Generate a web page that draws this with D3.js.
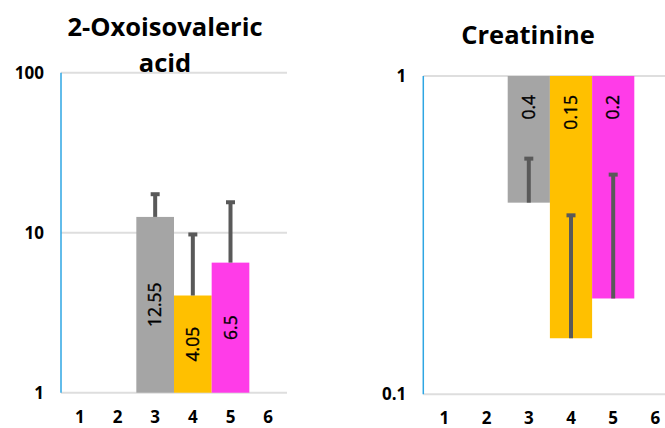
<!DOCTYPE html>
<html>
<head>
<meta charset="utf-8">
<script src="https://cdn.jsdelivr.net/npm/d3@7"></script>
<style>
  body { margin: 0; background: #fff; overflow: hidden; }
  svg { display: block; }
  text { font-family: "Open Sans", sans-serif; fill: #000; }
</style>
</head>
<body>
<svg id="chart"></svg>
<script>
// chart data
const categories = [1, 2, 3, 4, 5, 6];
const barColors = [null, null, "#a5a5a5", "#ffc000", "#ff3ce8", null];

const oxoTitle = ["2-Oxoisovaleric", "acid"];
const oxoValues = [null, null, 12.55, 4.05, 6.5, null];
const oxoErrors = [null, null, 4.85, 5.7, 9.0, null];
const oxoTicks = [1, 10, 100];

const creatTitle = ["Creatinine"];
const creatValues = [null, null, 0.4, 0.15, 0.2, null];
const creatErrors = [null, null, 0.15, 0.215, 0.29, null];
const creatTicks = [0.1, 1];

const width = 665;
const height = 428;

const svg = d3.select("#chart")
    .attr("width", width)
    .attr("height", height);

// one panel per compound
function drawPanel(cfg) {
    const x = d3.scaleBand()
        .domain(categories)
        .range([cfg.left, cfg.right])
        .padding(0);

    const y = d3.scaleLog()
        .domain(d3.extent(cfg.ticks))
        .range([cfg.bottom, cfg.top]);

    const g = svg.append("g");

    // gridlines
    g.selectAll(".grid")
        .data(cfg.ticks)
        .enter()
        .append("line")
        .attr("x1", cfg.left)
        .attr("x2", cfg.right)
        .attr("y1", d => y(d))
        .attr("y2", d => y(d))
        .attr("stroke", "#dedede")
        .attr("stroke-width", 2);

    // y tick labels
    g.selectAll(".ytick")
        .data(cfg.ticks)
        .enter()
        .append("text")
        .attr("x", cfg.left - 17)
        .attr("y", d => y(d))
        .attr("dy", "0.35em")
        .attr("text-anchor", "end")
        .attr("font-size", 17)
        .attr("font-weight", "bold")
        .text(d => d);

    // x tick labels
    g.selectAll(".xtick")
        .data(categories)
        .enter()
        .append("text")
        .attr("x", d => x(d) + x.bandwidth() / 2)
        .attr("y", cfg.bottom + 24)
        .attr("dy", "0.35em")
        .attr("text-anchor", "middle")
        .attr("font-size", 17)
        .attr("font-weight", "bold")
        .text(d => d);

    const rows = categories.map((c, i) => ({
        cat: c, value: cfg.values[i], err: cfg.errors[i], color: barColors[i]
    })).filter(d => d.value != null);

    // bars start where the axis crosses, at 1
    const base = y(1);
    g.selectAll(".bar")
        .data(rows)
        .enter()
        .append("rect")
        .attr("x", d => x(d.cat))
        .attr("width", x.bandwidth())
        .attr("y", d => Math.min(y(d.value), base))
        .attr("height", d => Math.abs(y(d.value) - base))
        .attr("fill", d => d.color);

    // plus error bars
    g.selectAll(".err")
        .data(rows)
        .enter()
        .append("line")
        .attr("x1", d => x(d.cat) + x.bandwidth() / 2)
        .attr("x2", d => x(d.cat) + x.bandwidth() / 2)
        .attr("y1", d => y(d.value))
        .attr("y2", d => y(d.value + d.err))
        .attr("stroke", "#595959")
        .attr("stroke-width", 4);

    g.selectAll(".cap")
        .data(rows)
        .enter()
        .append("line")
        .attr("x1", d => x(d.cat) + x.bandwidth() / 2 - 4.5)
        .attr("x2", d => x(d.cat) + x.bandwidth() / 2 + 4.5)
        .attr("y1", d => y(d.value + d.err))
        .attr("y2", d => y(d.value + d.err))
        .attr("stroke", "#595959")
        .attr("stroke-width", 4);

    // value labels, rotated
    g.selectAll(".label")
        .data(rows)
        .enter()
        .append("text")
        .attr("transform", d => {
            const cx = x(d.cat) + x.bandwidth() / 2;
            const cy = cfg.labelY(d, y);
            return `translate(${cx}, ${cy}) rotate(-90)`;
        })
        .attr("text-anchor", cfg.labelAnchor)
        .attr("dy", "0.35em")
        .attr("font-size", 17.5)
        .attr("stroke", "#000")
        .attr("stroke-width", 0.35)
        .text(d => d.value);

    // left axis line
    g.append("line")
        .attr("x1", cfg.left)
        .attr("x2", cfg.left)
        .attr("y1", cfg.top)
        .attr("y2", cfg.bottom)
        .attr("stroke", "#2ea6e3")
        .attr("stroke-width", 1.5);

    // title
    g.selectAll(".title")
        .data(cfg.title)
        .enter()
        .append("text")
        .attr("x", cfg.titleX)
        .attr("y", (d, i) => cfg.titleY + i * 36)
        .attr("text-anchor", "middle")
        .attr("font-size", 25.5)
        .attr("font-weight", "bold")
        .text(d => d);
}

drawPanel({
    title: oxoTitle, values: oxoValues, errors: oxoErrors, ticks: oxoTicks,
    left: 61, right: 287, top: 72.7, bottom: 392.7,
    titleX: 165, titleY: 36,
    labelAnchor: "middle",
    labelY: (d, y) => (y(d.value) + y(1)) / 2
});

drawPanel({
    title: creatTitle, values: creatValues, errors: creatErrors, ticks: creatTicks,
    left: 423.3, right: 676.5, top: 76, bottom: 394.3,
    titleX: 528, titleY: 44,
    labelAnchor: "end",
    labelY: (d, y) => y(1) + 19
});
</script>
</body>
</html>
